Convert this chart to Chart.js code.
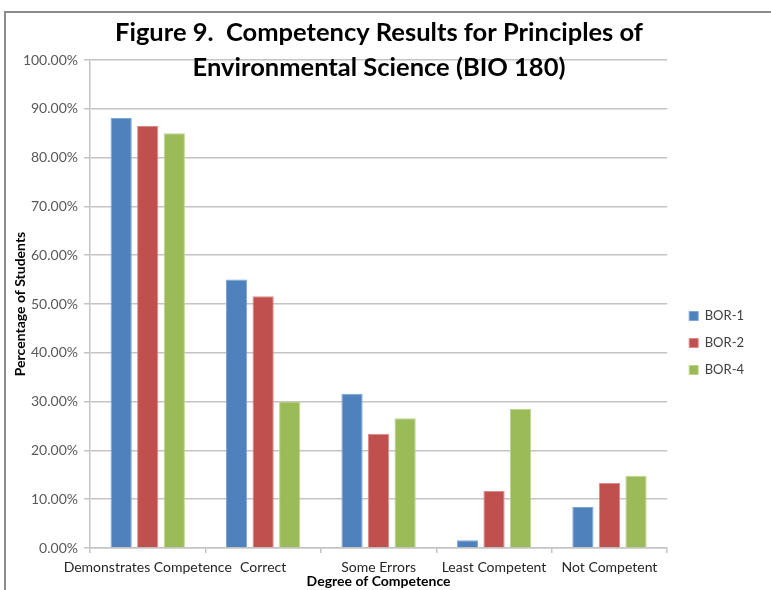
<!DOCTYPE html>
<html>
<head>
<meta charset="utf-8">
<script src="https://cdn.jsdelivr.net/npm/chart.js@4.4.1/dist/chart.umd.min.js"></script>
<style>
  html, body { margin: 0; padding: 0; background: #fff; }
  canvas { display: block; }
</style>
</head>
<body>
<canvas id="competencyChart" width="771" height="590"></canvas>
<script>
// Chart data
const categories = ['Demonstrates Competence', 'Correct', 'Some Errors', 'Least Competent', 'Not Competent'];
const seriesNames = ['BOR-1', 'BOR-2', 'BOR-4'];
const bor1 = [88.1, 55.0, 31.6, 1.6, 8.4];
const bor2 = [86.5, 51.6, 23.4, 11.7, 13.3];
const bor4 = [85.0, 30.0, 26.6, 28.5, 14.8];
const yMin = 0;
const yMax = 100;
const yStep = 10;

const FONT = 'Lato, "Open Sans", sans-serif';

// outer frame like the pasted excel chart
const framePlugin = {
    id: 'frame',
    beforeDraw(chart) {
        const ctx = chart.ctx;
        ctx.save();
        ctx.strokeStyle = '#8c8c8c';
        ctx.lineWidth = 2;
        ctx.beginPath();
        ctx.moveTo(5, chart.height);
        ctx.lineTo(5, 12);
        ctx.lineTo(chart.width, 12);
        ctx.stroke();
        ctx.restore();
    }
};

// nudge the legend a bit right and down
const legendShift = {
    id: 'legendShift',
    afterLayout(chart) {
        const lg = chart.legend;
        if (!lg) return;
        lg.left += 8;
        lg.right += 8;
        lg.top += 48;
        lg.bottom += 48;
    }
};

new Chart(document.getElementById('competencyChart'), {
    type: 'bar',
    data: {
        labels: categories,
        datasets: [
            {
                label: seriesNames[0],
                data: bor1,
                backgroundColor: '#4F81BD',
                borderColor: '#7ea6d8',
                borderWidth: 1
            },
            {
                label: seriesNames[1],
                data: bor2,
                backgroundColor: '#C0504D',
                borderColor: '#dc8a88',
                borderWidth: 1
            },
            {
                label: seriesNames[2],
                data: bor4,
                backgroundColor: '#9BBB59',
                borderColor: '#bcd68e',
                borderWidth: 1
            }
        ]
    },
    options: {
        responsive: false,
        animation: false,
        categoryPercentage: 0.69,
        barPercentage: 0.8,
        layout: {
            padding: { left: 12, right: 25, top: 0, bottom: 0 }
        },
        plugins: {
            title: {
                display: true,
                text: ['Figure 9.  Competency Results for Principles of', 'Environmental Science (BIO 180)'],
                color: '#000',
                font: { family: FONT, size: 25.5, weight: 'bold', lineHeight: 1.373 },
                padding: { top: 15.5, bottom: -25.5 }
            },
            legend: {
                position: 'right',
                labels: {
                    boxWidth: 9,
                    boxHeight: 9,
                    padding: 14,
                    color: '#404040',
                    font: { family: FONT, size: 13 }
                }
            },
            tooltip: { enabled: false }
        },
        scales: {
            y: {
                min: yMin,
                max: yMax,
                afterFit(scale) { scale.width = 78; },
                ticks: {
                    stepSize: yStep,
                    padding: 6,
                    color: '#595959',
                    font: { family: FONT, size: 14 },
                    callback: v => v.toFixed(2) + '%'
                },
                grid: {
                    color: '#c4c4c4',
                    lineWidth: 1.5,
                    tickLength: 6
                },
                border: { color: '#c4c4c4', width: 1.5 },
                title: {
                    display: true,
                    text: 'Percentage of Students',
                    color: '#000',
                    font: { family: FONT, size: 14, weight: 'bold' },
                    padding: { top: 0, bottom: 0 }
                }
            },
            x: {
                afterFit(scale) { scale.height = 42; },
                ticks: {
                    autoSkip: false,
                    maxRotation: 0,
                    minRotation: 0,
                    padding: 6,
                    color: '#262626',
                    font: { family: FONT, size: 14 }
                },
                grid: {
                    drawOnChartArea: false,
                    drawTicks: true,
                    tickLength: 5,
                    color: '#c4c4c4',
                    lineWidth: 1.5
                },
                border: { color: '#c4c4c4', width: 1.5 },
                title: {
                    display: true,
                    text: 'Degree of Competence',
                    color: '#000',
                    font: { family: FONT, size: 14, weight: 'bold' },
                    padding: { top: 0, bottom: 0 }
                }
            }
        }
    },
    plugins: [framePlugin, legendShift]
});
</script>
</body>
</html>
